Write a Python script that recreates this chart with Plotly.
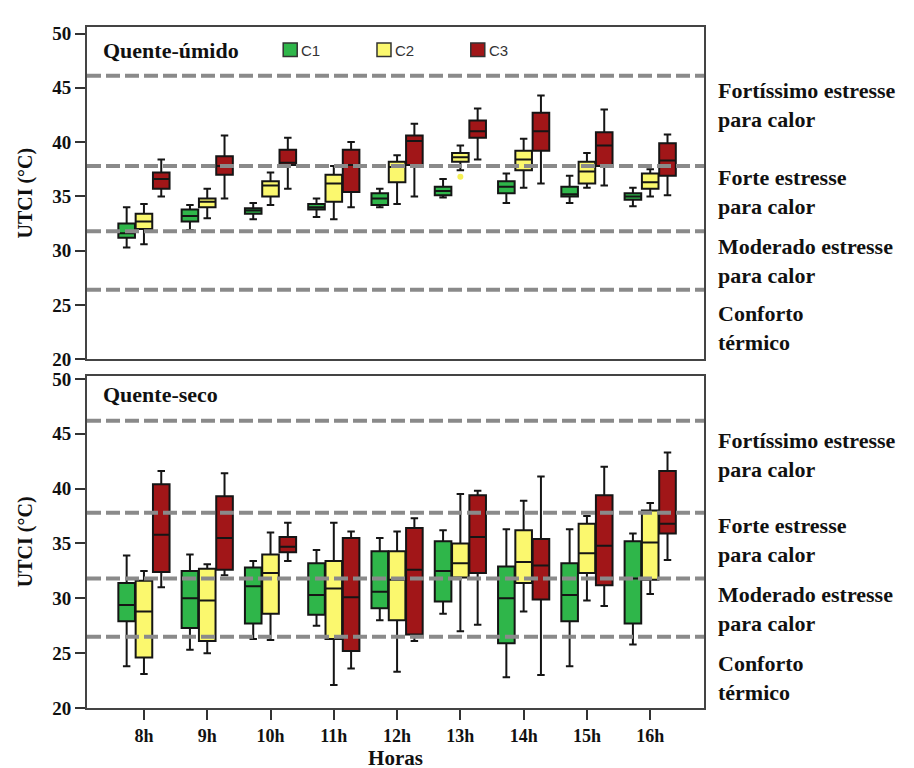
import plotly.graph_objects as go
from plotly.subplots import make_subplots

hours = ["8h", "9h", "10h", "11h", "12h", "13h", "14h", "15h", "16h"]
groups = ["C1", "C2", "C3"]
colors = {"C1": "#2fb64a", "C2": "#fbf86e", "C3": "#a11618"}

# ---- Quente-úmido (top panel): lower whisker, Q1, median, Q3, upper whisker
hu_C1_low = [30.3, 31.9, 32.9, 33.1, 34.0, 34.9, 34.4, 34.4, 34.1]
hu_C1_q1 = [31.2, 32.7, 33.4, 33.8, 34.2, 35.1, 35.3, 35.0, 34.7]
hu_C1_med = [31.6, 33.2, 33.7, 34.0, 34.8, 35.5, 35.9, 35.2, 35.0]
hu_C1_q3 = [32.5, 33.8, 33.9, 34.3, 35.3, 35.9, 36.4, 35.9, 35.3]
hu_C1_high = [34.0, 34.2, 34.4, 34.8, 35.7, 36.6, 37.1, 36.9, 35.8]

hu_C2_low = [30.6, 33.0, 34.2, 32.9, 34.3, 37.4, 35.8, 35.8, 35.0]
hu_C2_q1 = [32.0, 34.0, 35.0, 34.5, 36.3, 38.2, 37.4, 36.2, 35.7]
hu_C2_med = [32.7, 34.5, 36.0, 36.2, 37.7, 38.6, 38.4, 37.3, 36.3]
hu_C2_q3 = [33.4, 34.8, 36.4, 37.0, 38.2, 39.0, 39.2, 38.2, 37.1]
hu_C2_high = [34.3, 35.7, 37.2, 37.8, 38.8, 39.7, 40.3, 39.0, 37.5]

hu_C3_low = [35.0, 34.8, 35.7, 34.0, 35.0, 38.4, 36.2, 36.0, 35.1]
hu_C3_q1 = [35.7, 37.0, 37.9, 35.4, 37.9, 40.4, 39.2, 37.8, 36.9]
hu_C3_med = [36.6, 37.8, 38.1, 37.9, 40.1, 41.0, 41.0, 39.7, 38.3]
hu_C3_q3 = [37.2, 38.7, 39.3, 39.3, 40.6, 42.0, 42.7, 40.9, 39.9]
hu_C3_high = [38.4, 40.6, 40.4, 40.0, 41.7, 43.1, 44.3, 43.0, 40.7]

hu_outlier_hour = ["13h"]
hu_outlier_val = [36.8]

# ---- Quente-seco (bottom panel)
hs_C1_low = [23.8, 25.3, 26.3, 27.5, 28.0, 28.6, 22.8, 23.8, 25.8]
hs_C1_q1 = [27.9, 27.3, 27.7, 28.5, 29.1, 29.7, 25.9, 27.9, 27.7]
hs_C1_med = [29.4, 30.0, 31.1, 30.3, 30.6, 32.5, 30.0, 30.3, 31.8]
hs_C1_q3 = [31.4, 32.5, 32.8, 33.2, 34.3, 35.2, 32.9, 33.2, 35.2]
hs_C1_high = [33.9, 34.0, 33.4, 34.4, 35.5, 36.2, 36.3, 36.3, 35.9]

hs_C2_low = [23.1, 25.0, 26.2, 22.1, 23.3, 27.0, 28.8, 29.8, 30.4]
hs_C2_q1 = [24.6, 26.1, 28.6, 26.3, 28.0, 31.9, 31.4, 32.3, 31.7]
hs_C2_med = [28.8, 29.8, 32.3, 30.9, 31.7, 33.2, 33.3, 34.1, 35.1]
hs_C2_q3 = [31.6, 32.7, 34.0, 33.4, 34.3, 35.0, 36.2, 36.8, 38.0]
hs_C2_high = [32.5, 33.1, 36.0, 36.9, 36.1, 39.5, 38.9, 37.5, 38.7]

hs_C3_low = [31.0, 32.1, 33.4, 23.6, 26.1, 27.6, 23.0, 29.3, 33.5]
hs_C3_q1 = [32.4, 32.6, 34.2, 25.2, 26.7, 32.3, 29.9, 31.2, 35.9]
hs_C3_med = [35.8, 35.5, 34.7, 30.1, 32.6, 35.6, 33.0, 34.8, 36.8]
hs_C3_q3 = [40.4, 39.3, 35.6, 35.5, 36.4, 39.4, 35.4, 39.4, 41.6]
hs_C3_high = [41.6, 41.4, 36.9, 36.1, 37.3, 39.8, 41.1, 42.0, 43.3]

# UTCI category thresholds (dashed lines) as drawn in each panel
thr_top = [46.1, 37.8, 31.8, 26.4]
thr_bottom = [46.2, 37.8, 31.8, 26.5]

# right-hand labels and their vertical positions (°C)
zone_labels = ["Fortíssimo estresse<br>para calor", "Forte estresse<br>para calor",
               "Moderado estresse<br>para calor", "Conforto<br>térmico"]
zone_y_top = [43.4, 35.4, 29.1, 22.9]
zone_y_bottom = [43.05, 35.35, 29.0, 22.75]

panels = [
    ("Quente-úmido", {
        "C1": (hu_C1_low, hu_C1_q1, hu_C1_med, hu_C1_q3, hu_C1_high),
        "C2": (hu_C2_low, hu_C2_q1, hu_C2_med, hu_C2_q3, hu_C2_high),
        "C3": (hu_C3_low, hu_C3_q1, hu_C3_med, hu_C3_q3, hu_C3_high)}),
    ("Quente-seco", {
        "C1": (hs_C1_low, hs_C1_q1, hs_C1_med, hs_C1_q3, hs_C1_high),
        "C2": (hs_C2_low, hs_C2_q1, hs_C2_med, hs_C2_q3, hs_C2_high),
        "C3": (hs_C3_low, hs_C3_q1, hs_C3_med, hs_C3_q3, hs_C3_high)}),
]

SERIF = "Liberation Serif"
SANS = "Liberation Sans"

fig = make_subplots(rows=2, cols=1, vertical_spacing=0.024)

for r, (title, data) in enumerate(panels, start=1):
    for g in groups:
        lo, q1, md, q3, hi = data[g]
        fig.add_trace(go.Box(
            x=hours, q1=q1, median=md, q3=q3, lowerfence=lo, upperfence=hi,
            name=g, offsetgroup=g, showlegend=False,
            fillcolor=colors[g], line=dict(color="#151515", width=2),
            whiskerwidth=0.45, boxpoints=False, hoverinfo="skip"),
            row=r, col=1)

fig.add_trace(go.Scatter(x=hu_outlier_hour, y=hu_outlier_val, mode="markers",
                         marker=dict(color="#f5ef55", size=6), showlegend=False,
                         hoverinfo="skip"), row=1, col=1)

fig.update_layout(
    width=914, height=768,
    margin=dict(l=79, r=218, t=13, b=61),
    paper_bgcolor="white", plot_bgcolor="white",
    boxmode="group", boxgap=0.18, boxgroupgap=0.04,
    font=dict(family=SERIF, color="#111"),
)

fig.update_layout(
    yaxis=dict(domain=[0.512, 1.0]),
    yaxis2=dict(domain=[0.0, 0.488]),
)

axis_common = dict(showline=True, linecolor="#444", linewidth=2, mirror=True,
                   showgrid=False, zeroline=False)

fig.update_xaxes(axis_common, range=[-0.9, 8.85], categoryorder="array",
                 categoryarray=hours)
fig.update_xaxes(showticklabels=False, ticks="", row=1, col=1)
fig.update_xaxes(ticks="outside", ticklen=10, tickwidth=2, tickcolor="#333",
                 tickfont=dict(family=SERIF, size=18, color="#111", weight="bold"),
                 title=dict(text="<b>Horas</b>", font=dict(family=SERIF, size=21, color="#111"),
                            standoff=4),
                 row=2, col=1)

fig.update_yaxes(axis_common, tickvals=[20, 25, 30, 35, 40, 45, 50],
                 ticks="outside", ticklen=10, tickwidth=2, tickcolor="#333",
                 tickfont=dict(family=SERIF, size=19, color="#111", weight="bold"),
                 title=dict(text="<b>UTCI (°C)</b>", font=dict(family=SERIF, size=20, color="#111"),
                            standoff=14))
fig.update_yaxes(range=[20, 50.6], row=1, col=1)
fig.update_yaxes(range=[20, 50.3], row=2, col=1)

# dashed threshold lines
for yref, thr in (("y", thr_top), ("y2", thr_bottom)):
    xdom = "x domain" if yref == "y" else "x2 domain"
    for t in thr:
        fig.add_shape(type="line", xref=xdom, x0=0, x1=1, yref=yref, y0=t, y1=t,
                      line=dict(color="#8a8a8a", width=4, dash="14px,5px"), layer="above")

# zone labels on the right
for yref, ys in (("y", zone_y_top), ("y2", zone_y_bottom)):
    for lab, yv in zip(zone_labels, ys):
        fig.add_annotation(text="<b>" + lab + "</b>", xref="paper", x=1.019, xanchor="left",
                           yref=yref, y=yv, yanchor="middle", align="left", showarrow=False,
                           font=dict(family=SERIF, size=22, color="#111"))

# panel titles
fig.add_annotation(text="<b>Quente-úmido</b>", xref="paper", x=0.022, xanchor="left",
                   yref="y domain", y=0.93, yanchor="middle", showarrow=False,
                   font=dict(family=SERIF, size=22, color="#111"))
fig.add_annotation(text="<b>Quente-seco</b>", xref="paper", x=0.022, xanchor="left",
                   yref="y2 domain", y=0.942, yanchor="middle", showarrow=False,
                   font=dict(family=SERIF, size=22, color="#111"))

# legend (top panel)
leg_x = [0.318, 0.470, 0.622]
for g, lx in zip(groups, leg_x):
    fig.add_shape(type="rect", xref="paper", yref="y domain", x0=lx, x1=lx + 0.0227,
                  y0=0.911, y1=0.952, fillcolor=colors[g], line=dict(color="#333", width=1.5))
    fig.add_annotation(text=g, xref="paper", x=lx + 0.026, xanchor="left",
                       yref="y domain", y=0.93, yanchor="middle", showarrow=False,
                       font=dict(family=SANS, size=15, color="#333"))

fig.write_html("out.html")
